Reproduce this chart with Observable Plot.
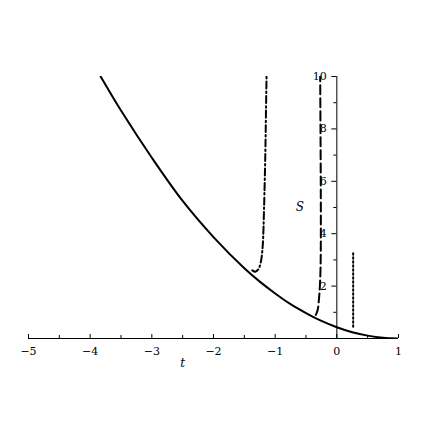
<!DOCTYPE html>
<html><head><meta charset="utf-8">
<script src="https://cdn.jsdelivr.net/npm/d3@7"></script>
<script src="https://cdn.jsdelivr.net/npm/@observablehq/plot@0.6"></script>
<style>body{margin:0;background:#fff;}</style>
</head><body><div id="chart"></div>
<script>
// Solid curve
const solidT = [-3.83,-3.5,-3.0,-2.5,-2.0,-1.5,-1.25,-1.0,-0.75,-0.5,-0.25,0,0.25,0.5,0.75,1.0];
const solidS = [10.0,8.7,6.9,5.25,3.87,2.68,2.17,1.72,1.31,0.97,0.67,0.43,0.24,0.11,0.03,0];
// Dash-dot curve
const dashDotT = [-1.37,-1.32,-1.27,-1.24,-1.22,-1.2,-1.18,-1.16,-1.15,-1.14];
const dashDotS = [2.6,2.55,2.65,2.85,3.1,3.6,5.0,7.0,8.5,10.0];
// Dashed curve
const dashT = [-0.34,-0.31,-0.29,-0.275,-0.265,-0.26,-0.26,-0.265,-0.27];
const dashS = [0.9,1.1,1.5,2.0,2.6,3.5,5.5,8.0,10.0];
// Dotted curve
const dotT = [0.265,0.265];
const dotS = [0.45,3.33];
// Axis ticks
const xMajor = [-5,-4,-3,-2,-1,0,1];
const xMinor = [-4.5,-3.5,-2.5,-1.5,-0.5,0.5];
const xLabels = ["\u22125","\u22124","\u22123","\u22122","\u22121","0","1"];
const yMajor = [2,4,6,8,10];
const yMinor = [1,3,5,7,9];
const yLabels = ["2","4","6","8","10"];

const zip = (a,b) => a.map((t,i)=>({t, s:b[i]}));
const font = "DejaVu Serif";

const chart = Plot.plot({
  width: 436, height: 436,
  marginLeft: 28, marginRight: 38, marginTop: 76, marginBottom: 98,
  x: {domain: [-5, 1], axis: null},
  y: {domain: [0, 10], axis: null},
  style: {fontFamily: font, fontSize: "11px", background: "#fff", color: "#000"},
  marks: [
    Plot.ruleY([0], {x1: -5, x2: 1, stroke: "#000", strokeWidth: 1}),
    Plot.ruleX([0], {y1: 0, y2: 10, stroke: "#000", strokeWidth: 1}),
    Plot.ruleX(xMajor, {x: d=>d, y1: 0, y2: 0, insetBottom: 4, stroke: "#000"}),
    Plot.ruleX(xMinor, {x: d=>d, y1: 0, y2: 0, insetBottom: 3, stroke: "#000"}),
    Plot.ruleY(yMajor, {y: d=>d, x1: 0, x2: 0, insetRight: 5, stroke: "#000"}),
    Plot.ruleY(yMinor, {y: d=>d, x1: 0, x2: 0, insetRight: 3, stroke: "#000"}),
    Plot.text(xMajor, {x: d=>d, y: 0, text: (d,i)=>xLabels[i], dy: 13, fontFamily: font, fontSize: 11}),
    Plot.text(yMajor, {x: 0, y: d=>d, text: (d,i)=>yLabels[i], dx: -10, textAnchor: "end", fontFamily: font, fontSize: 11}),
    Plot.text([{t: -2.5, s: 0}], {x: "t", y: "s", text: ()=>"t", dy: 25, fontStyle: "italic", fontFamily: font, fontSize: 12}),
    Plot.text([{t: -0.6, s: 5}], {x: "t", y: "s", text: ()=>"S", fontStyle: "italic", fontFamily: font, fontSize: 12}),
    Plot.line(zip(solidT, solidS), {x: "t", y: "s", stroke: "#000", strokeWidth: 2, curve: "catmull-rom", clip: true}),
    Plot.line(zip(dashDotT, dashDotS), {x: "t", y: "s", stroke: "#000", strokeWidth: 2, strokeDasharray: "7,3,1.5,3", curve: "catmull-rom", clip: true}),
    Plot.line(zip(dashT, dashS), {x: "t", y: "s", stroke: "#000", strokeWidth: 2, strokeDasharray: "9,4", curve: "catmull-rom", clip: true}),
    Plot.line(zip(dotT, dotS), {x: "t", y: "s", stroke: "#000", strokeWidth: 2, strokeDasharray: "1.5,2.5", clip: true})
  ]
});
document.getElementById("chart").appendChild(chart);
</script>
</body></html>
